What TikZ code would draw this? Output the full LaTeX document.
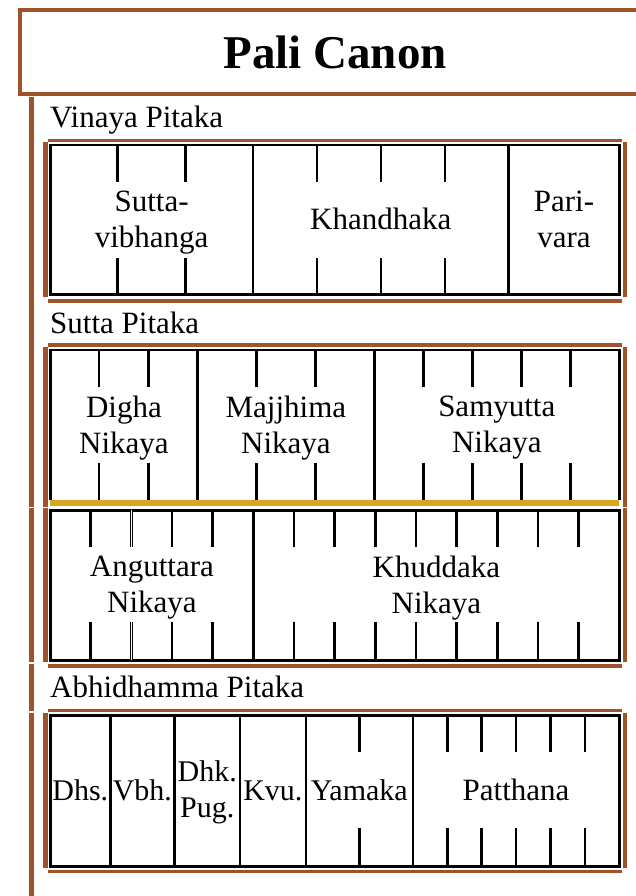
\documentclass[tikz,border=0pt]{standalone}
\usepackage{fontspec}
\setmainfont{Liberation Serif}
\usepackage{xcolor}
\definecolor{canonbrown}{RGB}{160,82,45}
\definecolor{canongold}{RGB}{218,165,32}

\begin{document}
\begin{tikzpicture}[x=1pt,y=-1pt,
  rule/.style={canonbrown,line width=3.6pt},
  cell/.style={black,line width=2.6pt},
  lbl/.style={font=\fontsize{31}{36}\selectfont,inner sep=0pt,align=center},
  small/.style={lbl,font=\fontsize{30}{36}\selectfont}]
  \useasboundingbox (0,0) rectangle (636,896);
  % title
  \draw[rule,line width=4pt] (660,10.3) -- (20.3,10.3) -- (20.3,94.3) -- (660,94.3);
  \node[font=\fontsize{47}{50}\selectfont\bfseries,anchor=base] (title) at (335,68.3) {Pali Canon};
  % left rule and frames
  \foreach \a/\b in {97/506.7,508.3/662.3,664.3/711,713.3/896}
    \draw[rule,line width=4.5pt] (31.7,\a) -- (31.7,\b);
  \foreach \t/\b in {140.7/300.7,345/665.7,710.3/871.3} {
    \draw[rule] (48.3,\t) -- (621.7,\t);
    \draw[rule] (48.3,\b) -- (621.7,\b);
  }
  \foreach \a/\b in {142/297,347.3/506.7,508.3/662.3,713.3/868.3} {
    \draw[rule,line width=4.4pt] (45.5,\a) -- (45.5,\b);
    \draw[rule] (625.2,\a) -- (625.2,\b);
  }
  % Vinaya Pitaka
  \node[lbl,anchor=base west] (vinaya) at (50,127.7) {Vinaya Pitaka};
  \draw[cell] (50.3,145) rectangle (619.3,294.5);
  \foreach \x in {253,508.7} \draw[cell] (\x,145) -- (\x,294.5);
  \foreach \x in {117.7,185.3,317,381,445} {
    \draw[cell] (\x,145) -- ++(0,37);
    \draw[cell] (\x,294.5) -- ++(0,-37);
  }
  \node[lbl,anchor=north] (suttavibhanga) at (151.6,191) {Sutta-\\vibhanga};
  \node[lbl,anchor=base] (khandhaka) at (380.8,229.5) {Khandhaka};
  \node[lbl,anchor=north] (parivara) at (564,191) {Pari-\\vara};
  % Sutta Pitaka
  \node[lbl,anchor=base west] (sutta) at (50,333.3) {Sutta Pitaka};
  \draw[cell] (50.3,500) -- (50.3,350) -- (619.3,350) -- (619.3,500);
  \draw[canongold,line width=5.5pt] (50.3,502.8) -- (619.3,502.8);
  \foreach \x in {197.5,374.3} \draw[cell] (\x,350) -- (\x,500);
  \foreach \x in {98.9,148.2,256.4,315.4,423.3,472.3,521.3,570.3} {
    \draw[cell] (\x,350) -- ++(0,37);
    \draw[cell] (\x,500) -- ++(0,-37.5);
  }
  \node[lbl,anchor=north] (digha) at (123.9,396) {Digha\\Nikaya};
  \node[lbl,anchor=north] (majjhima) at (285.9,396) {Majjhima\\Nikaya};
  \node[lbl,anchor=north] (samyutta) at (496.8,396) {Samyutta\\Nikaya};
  \draw[cell] (50.3,510.2) rectangle (619.3,660.2);
  \draw[cell] (253.4,510.2) -- (253.4,660.2);
  \foreach \x in {90.7,172,212.7,294,334.7,375.4,416,456.7,497.4,538,578.7} {
    \draw[cell] (\x,510.2) -- ++(0,37);
    \draw[cell] (\x,660.2) -- ++(0,-38);
  }
  \draw[double,line width=0.9pt,double distance=0.8pt] (131.4,510.2) -- ++(0,37);
  \draw[double,line width=0.9pt,double distance=0.8pt] (131.4,660.2) -- ++(0,-38);
  \node[lbl,anchor=north] (anguttara) at (151.9,556) {Anguttara\\Nikaya};
  \node[lbl,anchor=north] (khuddaka) at (436.4,556) {Khuddaka\\Nikaya};
  % Abhidhamma Pitaka
  \node[lbl,anchor=base west] (abhidhamma) at (50,697) {Abhidhamma Pitaka};
  \draw[cell] (50.3,715.5) rectangle (619.3,866.2);
  \foreach \x in {110.3,174.4,240,305.8,412.8} \draw[cell] (\x,715.5) -- (\x,866.2);
  \foreach \x in {359.3,447.2,481.6,516,550.4,584.8} {
    \draw[cell] (\x,715.5) -- ++(0,36.5);
    \draw[cell] (\x,866.2) -- ++(0,-38);
  }
  \foreach \x/\nm/\txt in {80.3/dhs/Dhs.,142.4/vbh/Vbh.,272.9/kvu/Kvu.,359.3/yamaka/Yamaka}
    \node[small,anchor=base] (\nm) at (\x,800.5) {\txt};
  \node[small,anchor=north] (dhkpug) at (207.2,760.7) {Dhk.\\Pug.};
  \node[lbl,anchor=base] (patthana) at (516,800.5) {Patthana};
\end{tikzpicture}
\end{document}
